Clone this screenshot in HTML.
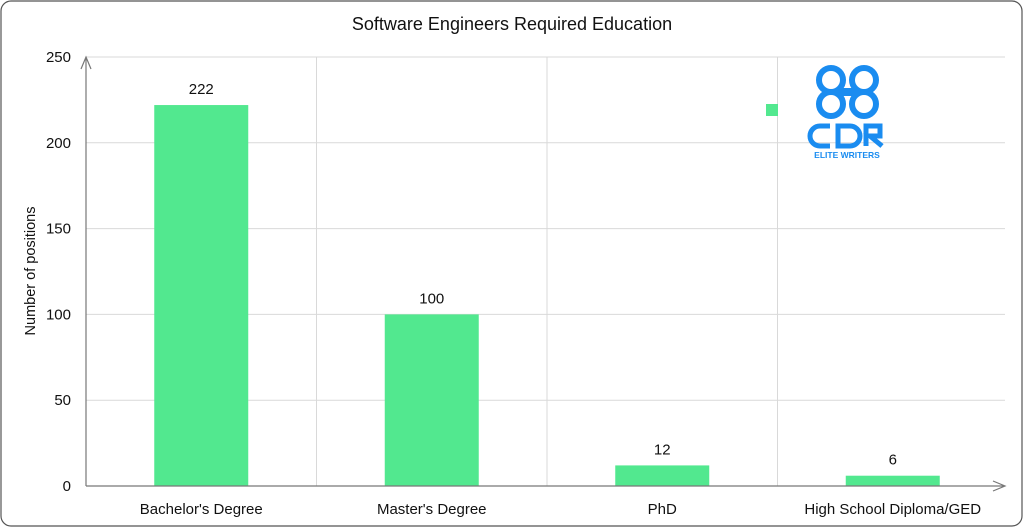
<!DOCTYPE html>
<html><head><meta charset="utf-8"><style>
html,body{margin:0;padding:0;background:#fff;}
svg{display:block;font-family:"Liberation Sans",sans-serif;}
</style></head><body>
<svg id="chart" width="1024" height="528" viewBox="0 0 1024 528">
<rect x="1" y="1" width="1021" height="525" rx="10" fill="#fff" stroke="#555" stroke-width="1.2"/>
<text x="512" y="30" text-anchor="middle" font-size="18" fill="#111">Software Engineers Required Education</text>
<text transform="translate(35,271) rotate(-90)" text-anchor="middle" font-size="14.5" fill="#111">Number of positions</text>
<g id="grid"></g>
<g id="bars"></g>
<g id="axes"></g>
<rect x="766" y="104" width="12" height="12" fill="#52e88f"/>
<g fill="none" stroke="#1a8cf0" stroke-width="6">
<circle cx="831" cy="80" r="12"/><circle cx="864" cy="80" r="12"/>
<circle cx="831" cy="104" r="12"/><circle cx="864" cy="104" r="12"/>
<rect x="840" y="88" width="15" height="8" fill="#1a8cf0" stroke="none"/>
<path d="M830 126 h-10 a10 10 0 0 0 -10 10 v0 a10 10 0 0 0 10 10 h10" stroke-width="5"/>
<path d="M838 126 h12 a10 10 0 0 1 10 10 a10 10 0 0 1 -10 10 h-12 z" stroke-width="5"/>
<path d="M866 146 v-20 h14 v10 h-10 l12 10" stroke-width="5"/>
<text x="847" y="158" text-anchor="middle" font-size="8.5" font-weight="bold" fill="#1a8cf0" stroke="none">ELITE WRITERS</text>
</g>
</svg>
<script>
const categories=["Bachelor's Degree","Master's Degree","PhD","High School Diploma/GED"];
const values=[222,100,12,6];
const yTicks=[0,50,100,150,200,250];
const NS="http://www.w3.org/2000/svg";
const x0=86,x1=1005,yTop=57,yBot=486,yMax=250,band=230.5,barW=94;
const y=v=>yBot-(v/yMax)*(yBot-yTop);
const xc=i=>x0+band*i+band/2;
function mk(t,a,p){const e=document.createElementNS(NS,t);for(const k in a)e.setAttribute(k,a[k]);p.appendChild(e);return e;}
const grid=document.getElementById('grid'),bars=document.getElementById('bars'),axes=document.getElementById('axes');
yTicks.forEach(t=>{
 if(t>0){const l=mk('line',{x1:x0,x2:x1,y1:y(t),y2:y(t),stroke:'#d9d9d9','stroke-width':1},grid);
 
 }
 const tx=mk('text',{x:71,y:y(t)+5,'text-anchor':'end','font-size':15,fill:'#111'},axes);tx.textContent=t;
 
 
});
for(let i=1;i<categories.length;i++){const l=mk('line',{x1:x0+band*i,x2:x0+band*i,y1:yTop,y2:yBot,stroke:'#d9d9d9','stroke-width':1},grid);
 
 }
categories.forEach((c,i)=>{
 const r=mk('rect',{x:xc(i)-barW/2,y:y(values[i]),width:barW,height:yBot-y(values[i]),fill:'#52e88f'},bars);
 
 
 const v=mk('text',{x:xc(i),y:y(values[i])-11,'text-anchor':'middle','font-size':15,fill:'#111'},bars);v.textContent=values[i];
 
 
 const l=mk('text',{x:xc(i),y:514,'text-anchor':'middle','font-size':15,fill:'#111'},axes);l.textContent=c;
 
 
});
const ya=mk('path',{d:`M${x0} ${yBot} V${yTop} M${x0-5} ${yTop+12} L${x0} ${yTop} L${x0+5} ${yTop+12}`,stroke:'#777',fill:'none','stroke-width':1.2},axes);


const xa=mk('path',{d:`M${x0} ${yBot} H${x1} M${x1-12} ${yBot-5} L${x1} ${yBot} L${x1-12} ${yBot+5}`,stroke:'#777',fill:'none','stroke-width':1.2},axes);


</script>
</body></html>
